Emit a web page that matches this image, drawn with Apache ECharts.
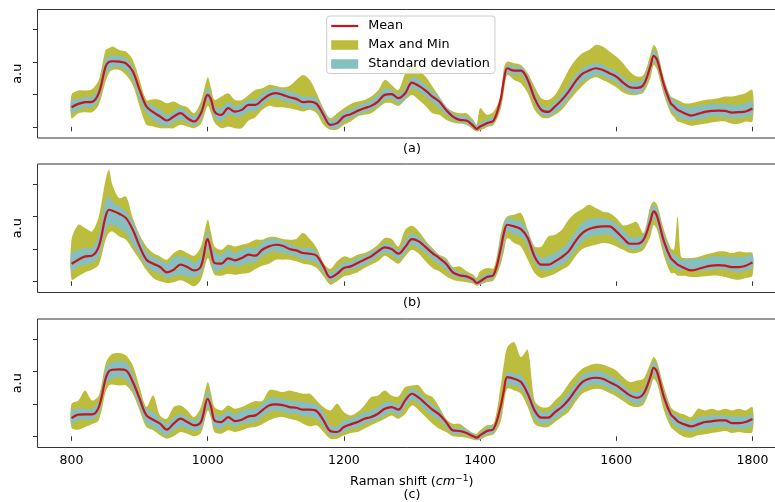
<!DOCTYPE html>
<html><head><meta charset="utf-8">
<script src="https://cdn.jsdelivr.net/npm/echarts@6/dist/echarts.min.js"></script>
<style>html,body{margin:0;padding:0;background:#fff}#c{width:775px;height:502px}</style>
</head><body><div id="c"></div>
<script>
// Raman shift grid (cm^-1)
const ramanShift = [
 800,810,820,830,840,850,855,860,870,880,
 890,900,910,920,930,940,950,960,970,980,
 990,1000,1005,1010,1020,1030,1040,1050,1060,1070,
 1080,1090,1100,1110,1120,1130,1140,1150,1160,1170,
 1180,1190,1200,1210,1220,1230,1240,1250,1260,1270,
 1280,1290,1300,1310,1320,1330,1340,1350,1360,1370,
 1380,1390,1395,1400,1410,1420,1430,1435,1440,1450,
 1460,1470,1480,1490,1500,1510,1520,1530,1540,1550,
 1560,1570,1580,1590,1600,1610,1620,1630,1640,1650,
 1655,1660,1670,1680,1685,1690,1695,1700,1710,1720,
 1730,1740,1750,1760,1770,1780,1790,1800];
const xTicks = [800,1000,1200,1400,1600,1800];
const yTicks = [0,97.5,195,292.5];
const panelLabels = ['(a)','(b)','(c)'];

// Panel (a)
const meanA = [59,69,74,75,101,181,195,197,196,191, 166,111,61,44,31,19,31,41,26,16, 41,96,81,46,36,56,46,51,66,66, 81,96,101,96,89,84,74,76,69,36, 6,11,31,38,48,56,63,76,96,98, 86,101,133,123,109,91,76,51,31,21, 19,3,-6,1,11,19,81,141,176,169, 169,141,86,51,45,61,81,106,136,159, 169,176,171,161,151,133,119,117,126,181, 213,201,126,71,61,51,46,41,34,39, 45,48,49,48,43,44,46,55];
const maxA = [96,109,109,113,141,231,236,241,231,226, 201,141,81,83,81,71,76,66,59,41, 76,149,116,81,91,101,81,81,96,111, 116,126,123,119,123,141,156,141,101,56, 26,41,56,69,76,81,91,109,141,126, 111,161,191,171,151,121,91,61,46,41, 41,21,6,56,36,46,91,176,196,191, 186,161,121,86,81,96,131,171,201,221, 231,246,241,226,211,191,166,151,156,216, 246,231,146,91,86,81,76,71,71,76, 81,83,86,91,91,96,101,111];
const sdHiA = [81,84,89,91,119,206,211,215,213,206, 181,123,73,63,53,36,46,59,43,31, 59,119,96,63,56,76,63,69,83,81, 101,113,116,113,106,101,91,91,86,51, 21,26,46,53,63,71,81,96,116,111, 98,118,149,141,126,106,89,61,41,33, 31,16,3,13,23,31,91,166,186,181, 181,156,106,66,59,76,99,126,156,176, 186,191,186,176,166,149,136,136,143,201, 231,219,141,89,81,71,66,61,59,63, 66,69,69,69,66,66,71,76];
const sdLoA = [41,51,59,59,81,156,171,179,179,171, 141,81,41,21,6,1,13,21,13,3, 23,81,59,29,16,36,31,31,46,48, 63,83,86,79,73,69,56,56,51,21, -4,-4,16,26,36,43,51,63,81,83, 71,84,116,106,91,73,56,36,21,13, 9,-4,-11,-7,3,11,61,121,161,156, 156,121,71,36,31,43,61,86,116,136, 146,156,153,143,133,116,103,99,111,161, 196,181,106,51,41,31,26,23,19,21, 26,31,31,29,26,26,29,36];
const minA = [26,41,44,44,66,136,161,171,171,156, 126,61,6,1,-4,-4,-4,6,1,-4, 9,63,41,13,-4,1,-4,-4,19,29, 51,63,59,59,56,51,46,51,41,6, -9,-9,6,16,31,36,41,56,71,71, 63,81,96,81,63,41,36,21,13,9, 6,-9,-14,-11,-1,6,51,106,156,141, 131,101,51,29,26,36,51,76,101,123, 141,149,141,131,119,103,96,96,103,146, 186,171,96,41,29,16,13,9,3,6, 9,13,16,16,9,9,16,16];

// Panel (b)
const meanB = [53,65,75,77,105,195,215,212,203,190, 155,105,65,53,43,27,35,50,43,33, 45,127,90,55,53,69,63,70,80,77, 95,105,110,107,97,93,85,83,77,45, 12,23,40,45,55,65,75,90,102,97, 83,103,127,120,103,85,70,53,27,18, 15,5,-5,0,13,20,95,145,170,165, 157,130,75,50,50,60,73,90,120,145, 157,163,165,165,150,130,113,113,125,180, 210,195,120,70,60,50,45,40,33,37, 43,47,49,47,43,43,47,57];
const maxB = [125,170,160,150,195,305,335,290,250,255, 190,140,105,85,75,65,85,95,85,77, 105,185,145,105,95,110,105,110,115,125, 125,133,133,127,125,127,145,127,100,55, 37,60,75,70,80,85,95,110,130,127, 105,155,167,150,123,100,80,70,43,45, 30,20,10,30,40,40,140,180,195,200, 205,155,105,105,135,140,155,185,205,217, 230,220,210,205,190,168,172,178,145,225, 240,230,155,100,95,195,75,70,70,73, 80,85,90,90,85,90,87,85];
const sdHiB = [85,95,100,100,140,245,255,240,225,210, 180,133,90,73,65,53,73,75,70,57, 75,155,110,90,80,97,85,95,103,100, 117,127,127,120,113,105,100,100,90,53, 27,40,57,60,70,77,90,100,115,110, 95,125,145,133,115,95,77,65,40,27, 23,13,5,10,23,30,125,170,190,185, 180,150,95,70,77,85,100,120,150,175, 187,190,190,185,173,155,133,133,140,210, 230,220,145,90,80,73,65,65,67,67, 70,75,75,75,73,73,75,80];
const sdLoB = [30,45,50,55,75,150,170,170,160,145, 110,80,45,30,23,10,15,20,13,13, 23,95,60,30,35,47,45,47,55,57, 75,87,90,85,80,75,65,63,55,25, 0,10,30,35,40,50,60,75,85,80, 65,85,110,100,85,65,50,35,17,10, 5,-3,-10,-7,3,10,65,110,150,140, 133,105,55,35,33,40,50,65,95,120, 133,137,140,140,125,110,97,95,110,160, 190,170,95,45,43,35,33,33,30,30, 33,35,37,35,30,27,33,40];
const minB = [5,15,27,35,50,125,145,150,135,125, 95,65,33,10,0,-5,-3,3,-5,-15, 5,70,45,20,17,23,20,23,25,37, 47,53,65,65,65,60,53,50,40,15, -10,0,15,20,27,40,50,60,77,65, 53,75,95,83,60,40,30,15,5,0, -3,-7,-13,-10,-3,3,50,90,130,115, 105,65,25,10,15,23,35,47,75,97, 105,110,115,113,105,95,85,85,95,135, 170,155,77,25,25,17,17,17,13,13, 15,17,17,13,7,5,10,17];

// Panel (c)
const meanC = [55,65,66,66,88,173,196,200,201,198, 163,113,63,50,38,20,38,53,43,33, 43,113,88,48,43,58,46,50,60,63, 78,93,96,94,88,86,80,80,76,48, 16,13,28,36,43,53,58,68,83,88, 80,108,128,116,98,80,66,43,18,16, 10,0,-4,3,16,23,88,138,178,173, 163,128,78,56,56,73,88,110,138,163, 173,176,173,163,153,138,123,116,128,178, 206,193,118,66,56,46,40,36,30,36, 43,45,48,48,40,40,43,52];
const maxC = [98,108,138,108,123,218,238,248,250,243, 213,148,88,123,63,53,88,93,78,58, 88,163,128,88,78,93,83,88,98,106, 106,138,138,133,138,133,128,128,108,88, 78,98,73,63,73,93,118,123,138,123, 120,148,153,153,128,118,88,53,38,38, 23,10,8,18,33,38,148,218,268,283, 238,260,108,88,88,108,128,158,183,203, 213,218,216,208,198,178,163,168,173,218, 238,223,148,88,78,73,68,66,58,83, 78,83,78,83,78,83,78,88];
const sdHiC = [78,83,83,83,108,203,218,223,226,223, 188,128,83,73,53,38,58,68,58,48, 68,138,106,68,63,78,66,78,83,83, 98,116,116,113,108,106,103,100,96,73, 33,30,48,53,60,73,78,88,103,103, 96,123,143,133,113,96,80,48,28,26, 20,8,3,10,26,33,108,158,193,188, 183,153,98,73,73,88,108,133,158,183, 193,196,193,183,173,156,138,133,143,198, 223,213,138,78,68,60,56,50,46,58, 60,63,63,63,60,60,60,66];
const sdLoC = [38,48,50,50,68,153,168,173,178,170, 138,88,38,28,13,3,18,28,23,16, 23,88,63,28,23,38,28,38,40,43, 58,73,78,73,68,68,60,58,53,28, 3,3,13,23,26,38,43,53,63,73, 63,88,110,98,78,60,48,26,8,6, 3,-7,-10,-7,6,10,63,116,153,153, 143,108,53,38,38,53,68,88,116,143, 153,156,153,143,133,120,106,96,108,158, 188,173,98,43,33,26,20,18,13,20, 23,26,28,28,23,23,23,33];
const minC = [26,20,28,36,48,133,153,156,153,153, 128,78,28,18,3,-7,0,13,8,0, 10,78,53,13,8,18,13,18,26,28, 36,48,56,58,53,48,38,30,33,13, -7,-7,3,10,13,23,33,43,53,63, 53,68,93,78,58,38,23,13,0,-2, -4,-10,-12,-10,0,6,43,98,143,138, 128,88,38,28,28,43,58,73,103,128, 138,143,140,130,120,106,93,88,96,143, 173,158,78,28,18,10,3,-2,-4,3, 6,10,13,16,10,13,10,13];

const OLIVE = '#bcbd3c', TEAL = '#86bfbf', RED = '#c8141c', AXC = '#333333';
const FONT = 'DejaVu Sans';

const panels = [
  {mean: meanA, max: maxA, sdHi: sdHiA, sdLo: sdLoA, min: minA},
  {mean: meanB, max: maxB, sdHi: sdHiB, sdLo: sdLoB, min: minB},
  {mean: meanC, max: maxC, sdHi: sdHiC, sdLo: sdLoC, min: minC}
];
const tops = [9.5, 164, 319];

const pair = arr => ramanShift.map((x, i) => [x, arr[i]]);

// band drawn as one smoothed polygon between the upper and lower arrays, through the axis scales
function bandSeries(name, gi, hi, lo, color, z) {
  return {
    type: 'custom', name: name, xAxisIndex: gi, yAxisIndex: gi, clip: true, silent: true, z: z,
    itemStyle: {color: color},
    data: ramanShift.map((x, i) => [x, lo[i], hi[i]]),
    encode: {x: 0, y: [1, 2]},
    renderItem: function (params, api) {
      if (params.dataIndex !== 0) return null;
      const pts = [];
      for (let i = 0; i < ramanShift.length; i++) pts.push(api.coord([ramanShift[i], hi[i]]));
      for (let i = ramanShift.length - 1; i >= 0; i--) pts.push(api.coord([ramanShift[i], lo[i]]));
      return {type: 'polygon', shape: {points: pts, smooth: 0.3}, style: {fill: color, stroke: null}};
    }
  };
}

const grids = [], xAxes = [], yAxes = [], series = [];
panels.forEach((d, gi) => {
  grids.push({left: 37.5, top: tops[gi], width: 749, height: 128.5, show: true,
    outerBoundsMode: 'none', containLabel: false,
    borderColor: AXC, borderWidth: 1, backgroundColor: 'transparent'});
  const last = gi === panels.length - 1;
  xAxes.push({type: 'value', gridIndex: gi, min: 750, max: 1850,
    splitLine: {show: false}, axisLine: {show: false},
    axisTick: {show: true, inside: false, length: 4.5, customValues: xTicks, lineStyle: {color: AXC, width: 1}},
    axisLabel: {show: last, customValues: xTicks, formatter: v => String(v), fontFamily: FONT, fontSize: 12.5, color: '#000', margin: 7},
    name: panelLabels[gi], nameLocation: 'middle', nameGap: last ? 41 : 4,
    nameTextStyle: {fontFamily: FONT, fontSize: 12.8, color: '#000'}});
  yAxes.push({type: 'value', gridIndex: gi, min: -33.5, max: 352.5,
    splitLine: {show: false}, axisLine: {show: false},
    axisTick: {show: true, inside: false, length: 4.5, customValues: yTicks, lineStyle: {color: AXC, width: 1}},
    axisLabel: {show: false, customValues: yTicks},
    name: 'a.u', nameLocation: 'middle', nameRotate: 90, nameGap: 13,
    nameTextStyle: {fontFamily: FONT, fontSize: 12.8, color: '#000'}});
  series.push(
    bandSeries('Max and Min', gi, d.max, d.min, OLIVE, 1),
    bandSeries('Standard deviation', gi, d.sdHi, d.sdLo, TEAL, 2),
    {type: 'line', name: 'Mean', xAxisIndex: gi, yAxisIndex: gi, showSymbol: false, symbol: 'none',
      smooth: 0.35, silent: true, data: pair(d.mean), lineStyle: {width: 2.2, color: RED}, itemStyle: {color: RED}, z: 3}
  );
});

const chart = echarts.init(document.getElementById('c'), null, {renderer: 'canvas'});
chart.setOption({
  animation: false,
  backgroundColor: '#fff',
  grid: grids, xAxis: xAxes, yAxis: yAxes, series: series,
  legend: {
    left: 326.7, top: 16, orient: 'vertical', padding: [2.5, 5, 2, 4.5], itemGap: 4,
    itemWidth: 27, itemHeight: 9.5, z: 10,
    backgroundColor: 'rgba(255,255,255,0.8)', borderColor: '#cccccc', borderWidth: 1, borderRadius: 3,
    textStyle: {fontFamily: FONT, fontSize: 12.8, color: '#000', padding: [0, 0, 0, 5], lineHeight: 15},
    selectedMode: false,
    data: [
      {name: 'Mean', icon: 'path://M0,0L27,0L27,2.2L0,2.2Z', itemStyle: {color: RED, borderWidth: 0}, lineStyle: {width: 0}},
      {name: 'Max and Min', icon: 'rect', itemStyle: {color: OLIVE, borderWidth: 0}, lineStyle: {width: 0}},
      {name: 'Standard deviation', icon: 'rect', itemStyle: {color: TEAL, borderWidth: 0}, lineStyle: {width: 0}}
    ]
  },
  graphic: [{
    type: 'text', x: 411.8, y: 481.7, silent: true,
    style: {
      text: '{n|Raman shift (}{i|cm}{s|−1}{n|)}', align: 'center', verticalAlign: 'middle',
      rich: {
        n: {fontFamily: FONT, fontSize: 12.8, fill: '#000', color: '#000', lineHeight: 16},
        i: {fontFamily: FONT, fontSize: 12.8, fontStyle: 'italic', fill: '#000', color: '#000', lineHeight: 16},
        s: {fontFamily: FONT, fontSize: 9, fill: '#000', color: '#000', verticalAlign: 'top', lineHeight: 9}
      }
    }
  }]
});
</script></body></html>
